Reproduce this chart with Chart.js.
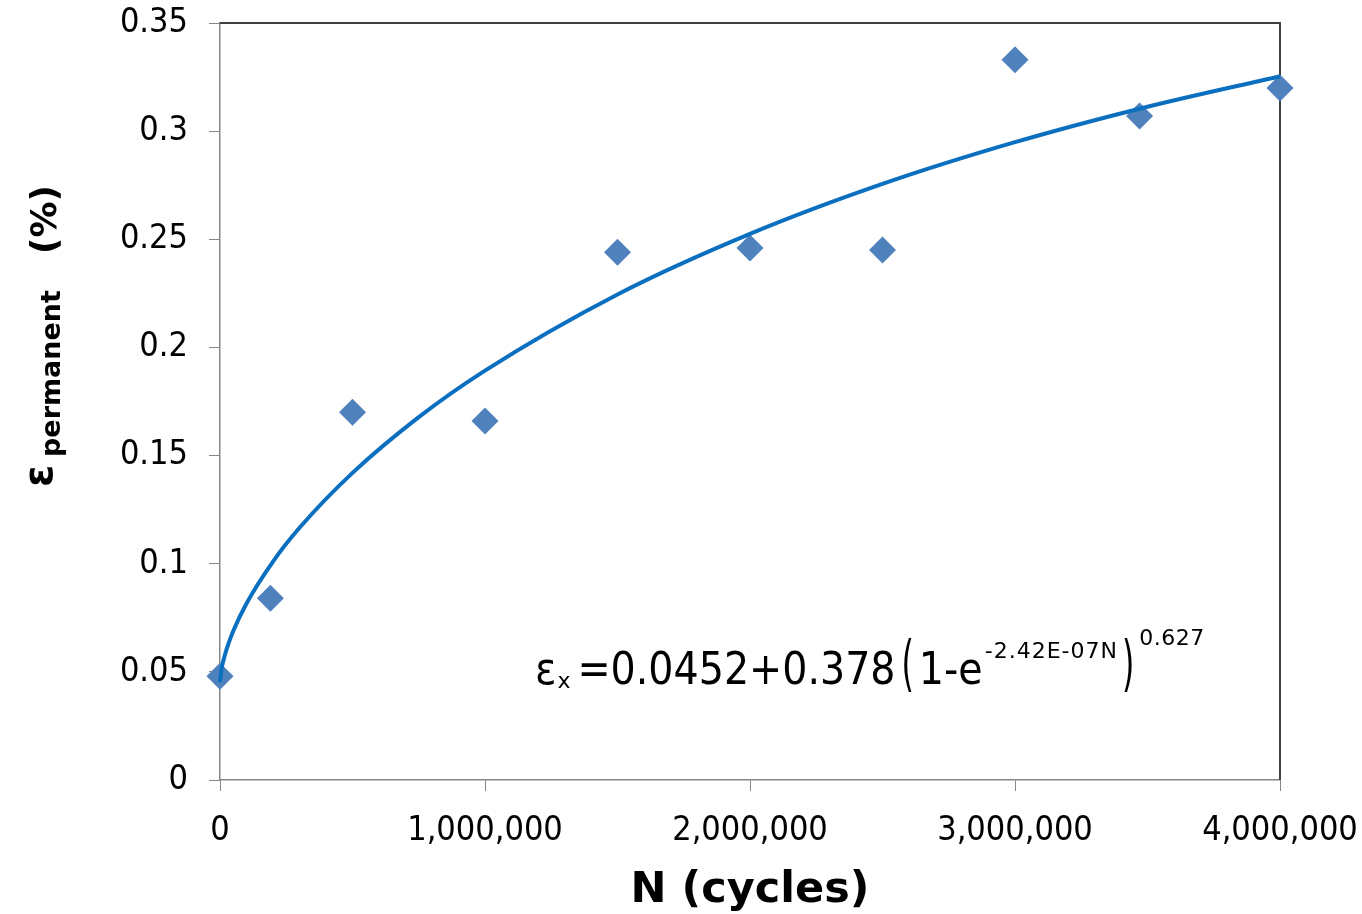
<!DOCTYPE html>
<html lang="en">
<head>
    <meta charset="UTF-8">
    <title>Permanent strain vs cycles</title>
    <script src="https://cdn.jsdelivr.net/npm/chart.js"></script>
    <style>
        body {
            margin: 0;
            background-color: #fff;
        }
        #wrap {
            width: 1362px;
            height: 914px;
        }
    </style>
</head>
<body>
    <div id="wrap"><canvas id="strainChart"></canvas></div>

    <script>
        // measured points
        const cycles = [0, 190000, 500000, 1000000, 1500000, 2000000, 2500000, 3000000, 3470000, 4000000];
        const strain = [0.048, 0.084, 0.170, 0.166, 0.244, 0.246, 0.245, 0.333, 0.307, 0.320];

        // fitted curve
        const fitCycles = [0, 5000, 10000, 25000, 50000, 100000, 200000, 300000, 500000, 750000, 1000000, 1500000, 2000000, 2500000, 3000000, 3500000, 4000000];
        const fitStrain = [0.0452, 0.0508, 0.0538, 0.0605, 0.0689, 0.0816, 0.1010, 0.1166, 0.1420, 0.1678, 0.1893, 0.2245, 0.2525, 0.2756, 0.2949, 0.3113, 0.3254];

        const xTicks = [0, 1000000, 2000000, 3000000, 4000000];
        const yTicks = [0, 0.05, 0.1, 0.15, 0.2, 0.25, 0.3, 0.35];

        const tickFont = { family: '"DejaVu Sans Condensed", "DejaVu Sans", sans-serif', size: 34 };
        const axisGray = '#868686';

        // top/right frame under the markers
        const framePlugin = {
            id: 'frame',
            beforeDatasetsDraw(chart) {
                const ctx = chart.ctx;
                const a = chart.chartArea;
                ctx.save();
                ctx.strokeStyle = '#404040';
                ctx.lineWidth = 2;
                ctx.beginPath();
                ctx.moveTo(a.left, a.top);
                ctx.lineTo(a.right, a.top);
                ctx.lineTo(a.right, a.bottom);
                ctx.stroke();
                ctx.restore();
            }
        };

        // axis titles and equation
        const textPlugin = {
            id: 'texts',
            afterDraw(chart) {
                const ctx = chart.ctx;
                ctx.save();
                ctx.fillStyle = '#000';
                ctx.textBaseline = 'alphabetic';
                ctx.textAlign = 'left';

                // x title
                ctx.font = 'bold 43px "DejaVu Sans", sans-serif';
                ctx.textAlign = 'center';
                ctx.fillText('N (cycles)', 750, 902);
                ctx.textAlign = 'left';

                // y title, rotated
                ctx.save();
                ctx.translate(52, 487);
                ctx.rotate(-Math.PI / 2);
                ctx.font = 'bold 40px "DejaVu Sans", sans-serif';
                ctx.fillText('ε', 0, 0);
                ctx.font = 'bold 27px "DejaVu Sans", sans-serif';
                ctx.fillText('permanent', 30, 8);
                const pw = ctx.measureText('permanent').width;
                ctx.font = 'bold 36px "DejaVu Sans", sans-serif';
                ctx.fillText('(%)', 30 + pw + 36, 4);
                ctx.restore();

                // equation
                const big = '44px "DejaVu Sans Condensed", "DejaVu Sans", sans-serif';
                const small = '22px "DejaVu Sans", sans-serif';
                const base = 684;
                let x = 535;
                const put = (txt, font, y, gap, spacing) => {
                    ctx.font = font;
                    ctx.letterSpacing = (spacing || 0) + 'px';
                    ctx.fillText(txt, x, y);
                    x += ctx.measureText(txt).width + gap;
                    ctx.letterSpacing = '0px';
                };
                const paren = (ch, gap) => {
                    ctx.save();
                    ctx.font = big;
                    ctx.translate(x, base);
                    ctx.scale(0.8, 1.38);
                    ctx.fillText(ch, 0, 0);
                    const w = ctx.measureText(ch).width * 0.8;
                    ctx.restore();
                    x += w + gap;
                };
                put('ε', big, base, 1);
                put('x', small, 688, 7);
                put('=0.0452+0.378', big, base, 6);
                paren('(', 5);
                put('1-e', big, base, 2);
                put('-2.42E-07N', small, 658, 4, 1);
                paren(')', 5);
                put('0.627', small, 645, 0, 0.5);

                ctx.restore();
            }
        };

        const ctx = document.getElementById('strainChart').getContext('2d');
        const strainChart = new Chart(ctx, {
            type: 'scatter',
            data: {
                datasets: [
                    {
                        label: 'fit',
                        data: fitCycles.map((n, i) => ({ x: n, y: fitStrain[i] })),
                        showLine: true,
                        borderColor: '#0B6FC0',
                        borderWidth: 4,
                        pointRadius: 0,
                        cubicInterpolationMode: 'monotone',
                        clip: false
                    },
                    {
                        label: 'measured',
                        data: cycles.map((n, i) => ({ x: n, y: strain[i] })),
                        pointStyle: 'rectRot',
                        pointRadius: 13.5,
                        pointBackgroundColor: '#4F81BD',
                        pointBorderColor: '#4F81BD',
                        pointBorderWidth: 0,
                        clip: false
                    }
                ]
            },
            options: {
                responsive: true,
                maintainAspectRatio: false,
                animation: false,
                layout: {
                    padding: { top: 23, right: 82, left: 0, bottom: 0 }
                },
                plugins: {
                    legend: { display: false },
                    tooltip: { enabled: false }
                },
                scales: {
                    x: {
                        type: 'linear',
                        min: 0,
                        max: 4000000,
                        afterBuildTicks: (scale) => { scale.ticks = xTicks.map(v => ({ value: v })); },
                        afterFit: (scale) => {
                            scale.height = 134;
                            scale.paddingLeft = 0;
                            scale.paddingRight = 0;
                        },
                        ticks: {
                            color: '#000',
                            font: tickFont,
                            padding: 20,
                            maxRotation: 0,
                            callback: (v) => v.toLocaleString('en-US')
                        },
                        grid: {
                            drawOnChartArea: false,
                            drawTicks: true,
                            tickLength: 11,
                            color: axisGray
                        },
                        border: { color: axisGray, width: 1.5 }
                    },
                    y: {
                        min: 0,
                        max: 0.35,
                        afterBuildTicks: (scale) => { scale.ticks = yTicks.map(v => ({ value: v })); },
                        afterFit: (scale) => {
                            scale.width = 220;
                            scale.paddingTop = 0;
                            scale.paddingBottom = 0;
                        },
                        ticks: {
                            color: '#000',
                            font: tickFont,
                            padding: 21,
                            callback: (v) => String(Number(v.toFixed(2)))
                        },
                        grid: {
                            drawOnChartArea: false,
                            drawTicks: true,
                            tickLength: 11,
                            color: axisGray
                        },
                        border: { color: axisGray, width: 1.5 }
                    }
                }
            },
            plugins: [framePlugin, textPlugin]
        });
    </script>
</body>
</html>
